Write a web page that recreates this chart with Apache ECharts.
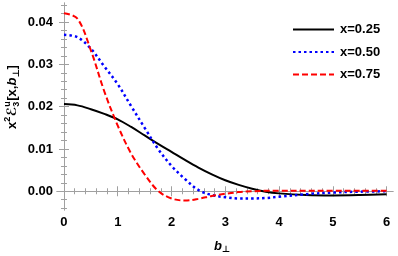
<!DOCTYPE html>
<html>
<head>
<meta charset="utf-8">
<script src="https://cdn.jsdelivr.net/npm/echarts@6/dist/echarts.min.js"></script>
<style>
html,body{margin:0;padding:0;background:#fff;}
#chart{width:398px;height:256px;}
</style>
</head>
<body>
<div id="chart"></div>
<script>
// ---- data ----
const bValues = [0, 0.25, 0.5, 0.75, 1, 1.25, 1.5, 1.75, 2, 2.25, 2.5, 2.75, 3, 3.25, 3.5, 3.75, 4, 4.5, 5, 5.5, 6];
const seriesNames = ['x=0.25', 'x=0.50', 'x=0.75'];
const valsX025 = [0.0206, 0.0203, 0.0194, 0.0183, 0.0170, 0.0152, 0.0132, 0.0112, 0.0093, 0.0074, 0.0056, 0.0040, 0.0026, 0.0015, 0.0006, -0.0001, -0.0005, -0.0009, -0.0010, -0.0009, -0.0007];
const valsX050 = [0.0370, 0.0364, 0.0337, 0.0295, 0.0253, 0.0201, 0.0150, 0.0100, 0.0060, 0.0029, 0.0003, -0.0009, -0.0014, -0.0017, -0.0017, -0.0016, -0.0013, -0.0007, -0.0003, -0.0001, 0.0000];
const valsX075 = [0.0421, 0.0408, 0.0333, 0.0236, 0.0155, 0.0089, 0.0040, 0.0001, -0.0017, -0.0022, -0.0018, -0.0011, -0.0006, -0.0002, 0.0000, 0.0001, 0.0001, 0.0001, 0.0001, 0.0001, 0.0001];
const xTickLabels = [0, 1, 2, 3, 4, 5, 6];
const yTickLabels = [0, 0.01, 0.02, 0.03, 0.04];
const xMinorTicks = [0.2,0.4,0.6,0.8,1.2,1.4,1.6,1.8,2.2,2.4,2.6,2.8,3.2,3.4,3.6,3.8,4.2,4.4,4.6,4.8,5.2,5.4,5.6,5.8];
const yMinorTicks = [-0.004,-0.002,0.002,0.004,0.006,0.008,0.012,0.014,0.016,0.018,0.022,0.024,0.026,0.028,0.032,0.034,0.036,0.038,0.042,0.044];

const xMin = -0.13, xMax = 6.12, yMin = -0.00443, yMax = 0.0445;
const frameColor = '#a0a0a0';
const labelFont = {fontFamily: "'Liberation Sans', Arial, sans-serif", fontWeight: 'bold', fontSize: 13, color: '#000'};

function mkX(pos, withLabels, ticks, len, showLine) {
  return {
    type: 'value', position: pos, min: xMin, max: xMax,
    axisLine: {show: showLine, lineStyle: {color: frameColor, width: 1}},
    axisTick: {show: true, inside: true, length: len, customValues: ticks, lineStyle: {color: frameColor}},
    axisLabel: withLabels ? Object.assign({show: true, margin: 6, customValues: xTickLabels, formatter: v => String(v)}, labelFont) : {show: false},
    splitLine: {show: false}
  };
}
function mkY(pos, withLabels, ticks, len, showLine) {
  return {
    type: 'value', position: pos, min: yMin, max: yMax,
    axisLine: {show: showLine, lineStyle: {color: frameColor, width: 1}},
    axisTick: {show: true, inside: true, length: len, customValues: ticks, lineStyle: {color: frameColor}},
    axisLabel: withLabels ? Object.assign({show: true, margin: 4, customValues: yTickLabels, formatter: v => v.toFixed(2)}, labelFont) : {show: false},
    splitLine: {show: false}
  };
}

function pairs(vals) { return bValues.map((b, i) => [b, vals[i]]); }

// ---- y-axis title built from measured pieces ----
const mainFont = "bold 13px 'Liberation Sans', 'DejaVu Sans', sans-serif";
const itFont = "italic bold 13px 'Liberation Sans', 'DejaVu Sans', sans-serif";
const smallFont = "bold 9px 'Liberation Sans', 'DejaVu Sans', sans-serif";
const ctx = document.createElement('canvas').getContext('2d');
function w(t, f) { ctx.font = f; return ctx.measureText(t).width; }
const pieces = [
  {t: 'x', f: mainFont, dy: 0},
  {t: '2', f: smallFont, dy: -5},
  {t: 'ℰ', f: mainFont, dy: 0},
  {stack: [{t: 'u', f: smallFont, dy: -5}, {t: '3', f: smallFont, dy: 4}]},
  {t: '[x,', f: mainFont, dy: 0},
  {t: 'b', f: itFont, dy: 0},
  {t: '⊥', f: smallFont, dy: 4},
  {t: ']', f: mainFont, dy: 0}
];
let total = 0;
pieces.forEach(p => {
  if (p.stack) p.w = Math.max(...p.stack.map(s => w(s.t, s.f))) + 0.5;
  else p.w = w(p.t, p.f) + (p.t === '2' ? 0.5 : 0);
  total += p.w;
});
const titleChildren = [];
let cx = -total / 2;
pieces.forEach(p => {
  const items = p.stack ? p.stack : [p];
  items.forEach(s => {
    titleChildren.push({type: 'text', x: cx, y: s.dy, style: {text: s.t, font: s.f, fill: '#000', align: 'left', verticalAlign: 'middle'}});
  });
  cx += p.w;
});

const chart = echarts.init(document.getElementById('chart'), null, {renderer: 'canvas'});
chart.setOption({
  animation: false,
  backgroundColor: '#fff',
  grid: {left: 57, right: 5, top: 3, bottom: 46, containLabel: false},
  xAxis: [
    mkX('bottom', true, xTickLabels, 5, true),
    mkX('bottom', false, xMinorTicks, 3, false),
    mkX('top', false, xTickLabels, 5, true),
    mkX('top', false, xMinorTicks, 3, false)
  ],
  yAxis: [
    mkY('left', true, yTickLabels, 5, true),
    mkY('left', false, yMinorTicks, 3, false),
    mkY('right', false, yTickLabels, 5, true),
    mkY('right', false, yMinorTicks, 3, false)
  ],
  legend: {
    orient: 'vertical', left: 287, top: 18,
    itemWidth: 41, itemHeight: 14, itemGap: 9.5,
    data: seriesNames,
    itemStyle: {opacity: 0, color: 'rgba(0,0,0,0)', borderWidth: 0},
    textStyle: {fontFamily: "'Liberation Sans', Arial, sans-serif", fontWeight: 'bold', fontSize: 13, color: '#000', padding: [0, 0, 0, 1]}
  },
  series: [
    {name: seriesNames[0], type: 'line', data: pairs(valsX025), symbol: 'none', smooth: 0.35,
     lineStyle: {color: '#000', width: 2, type: 'solid'}, itemStyle: {color: '#000'}},
    {name: seriesNames[1], type: 'line', data: pairs(valsX050), symbol: 'none', smooth: 0.35,
     lineStyle: {color: '#0000ff', width: 2.5, type: [2.5, 3]}, itemStyle: {color: '#0000ff'}},
    {name: seriesNames[2], type: 'line', data: pairs(valsX075), symbol: 'none', smooth: 0.35,
     lineStyle: {color: '#ff0000', width: 2, type: [6, 3]}, itemStyle: {color: '#ff0000'}}
  ],
  graphic: [
    {type: 'group', x: 12.5, y: 97, rotation: Math.PI / 2, children: titleChildren},
    {type: 'text', x: 222, y: 246, style: {
      text: '{b|b}{s|⊥}', align: 'center', verticalAlign: 'middle',
      rich: {
        b: {font: itFont, fill: '#000'},
        s: {font: smallFont, fill: '#000', padding: [7, 0, 0, 0]}
      }
    }}
  ]
});
</script>
</body>
</html>
